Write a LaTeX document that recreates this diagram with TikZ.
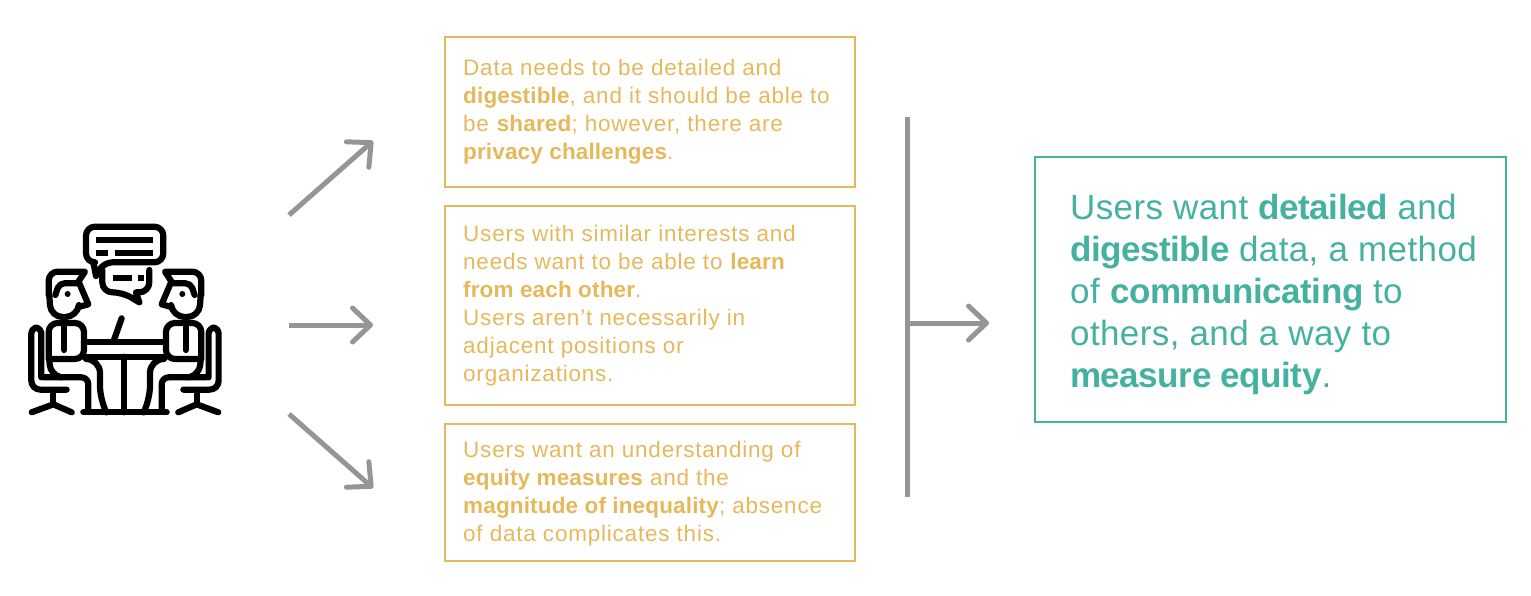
\documentclass[tikz,border=0pt]{standalone}
\usepackage{fontspec}
\setmainfont[LetterSpace=3.5,BoldFeatures={LetterSpace=0.7}]{Liberation Sans}
\newfontfamily\largefam[LetterSpace=1.1,BoldFeatures={LetterSpace=-1.3}]{Liberation Sans}
\usetikzlibrary{arrows.meta}
\definecolor{amber}{HTML}{E6B85C}
\definecolor{teal2}{HTML}{45B1A1}
\definecolor{arrowgrey}{HTML}{959595}
\tikzset{
  x=1pt,y=-1pt,
  smallbox/.style={draw=amber,line width=2pt,minimum width=409.5pt,inner sep=0pt},
  smalltext/.style={anchor=west,inner sep=0pt,align=left,text=amber,font=\fontsize{22.5}{28}\selectfont},
  bigbox/.style={draw=teal2,line width=2pt,minimum width=471pt,minimum height=265pt,inner sep=0pt},
  bigtext/.style={anchor=west,inner sep=0pt,align=left,text=teal2,font=\largefam\fontsize{35}{42}\selectfont},
  flow/.style={draw=arrowgrey,line width=5pt,-{Straight Barb[length=18pt,width=34pt,round,line width=5pt]}},
  bar/.style={draw=arrowgrey,line width=5pt},
  ico/.style={draw=black,line width=6.2pt,line join=round,line cap=round,fill=none}
}
\newcommand{\personpart}{%
  % hair
  \draw[ico,rounded corners=9pt] (86,240) -- (86,170) [sharp corners] -- (195,170) -- (172,205) [rounded corners=5pt] -- (118,205) -- (106,240);
  % face
  \draw[ico,rounded corners=12pt] (88,240) -- (92,306) -- (172,306) [sharp corners] -- (176,276) -- (205,268) -- (178,205);
  \fill (143,237) circle (9);
  % torso
  \draw[ico,rounded corners=9pt] (86,432) -- (86,324) -- (192,324) -- (192,432) [sharp corners] -- cycle;
  \draw[ico] (133,330) -- (133,405);
  % chair
  \draw[ico,rounded corners=6pt] (64,487) -- (64,338) -- (34,338) [rounded corners=9pt] -- (34,524) -- (140,524);
  \draw[ico,rounded corners=7pt] (70,487) -- (205,487) -- (205,590);
  \draw[ico,rounded corners=9pt] (88,436) -- (92,478) -- (125,487);
  \draw[ico,rounded corners=14pt] (205,432) -- (240,432) -- (240,555) [sharp corners] -- (258,590);
  % seat post and feet
  \draw[ico] (100,525) -- (100,568);
  \draw[ico] (35,592) -- (100,568) -- (155,592);
}
\begin{document}
\begin{tikzpicture}
\useasboundingbox (0,0) rectangle (1531,595);

% icon
\begin{scope}[shift={(20,215)},x=0.3333pt,y=-0.3333pt]
  \node[inner sep=0pt,minimum size=0pt] (icon) at (315,315) {};
  \draw[ico,rounded corners=9pt] (198,35) -- (430,35) -- (430,142) -- (250,142) [sharp corners] -- (228,183) -- (220,142) [rounded corners=9pt] -- (198,142) -- cycle;
  \draw[ico,rounded corners=10pt] (247,165) -- (247,232) -- (308,232) [sharp corners] -- (358,262) -- (348,232) [rounded corners=10pt] -- (388,232) -- (388,165);
  \draw[black,line width=6pt] (228,75) -- (400,75) (228,115) -- (265,115) (285,115) -- (400,115) (278,190) -- (335,190) (355,190) -- (372,190);
  \personpart
  \begin{scope}[shift={(630,0)},xscale=-1]
    \personpart
  \end{scope}
  % table
  \draw[ico] (192,382) -- (438,382) (192,425) -- (438,425);
  \draw[ico] (305,310) -- (282,375);
  \draw[ico] (312,425) -- (312,592);
  \draw[ico] (190,592) -- (440,592);
\end{scope}

% small boxes
\node[smallbox,minimum height=150pt] (b1) at (650,112) {};
\node[smallbox,minimum height=199pt] (b2) at (650,305.5) {};
\node[smallbox,minimum height=137pt] (b3) at (650,492.5) {};
\node[smalltext] (t1) at (463,111.5) {Data needs to be detailed and\\\textbf{digestible}, and it should be able to\\be \textbf{shared}; however, there are\\\textbf{privacy challenges}.};
\node[smalltext] (t2) at (463,305.5) {Users with similar interests and\\needs want to be able to \textbf{learn}\\\textbf{from each other}.\\Users aren’t necessarily in\\adjacent positions or\\organizations.};
\node[smalltext] (t3) at (463,493.5) {Users want an understanding of\\\textbf{equity measures} and the\\\textbf{magnitude of inequality}; absence\\of data complicates this.};

% big box
\node[bigbox] (big) at (1270.5,289.5) {};
\node[bigtext] (bt) at (1070,294) {Users want \textbf{detailed} and\\\textbf{digestible} data, a method\\of \textbf{communicating} to\\others, and a way to\\\textbf{measure equity}.};

% connectors
\coordinate (s1) at (289,215);
\coordinate (e1) at (373,141);
\coordinate (s2) at (289,325);
\coordinate (e2) at (373,325);
\coordinate (s3) at (289,414);
\coordinate (e3) at (373,488);
\coordinate (bt1) at (907,117);
\coordinate (bt2) at (907,497);
\coordinate (s4) at (907,323);
\coordinate (e4) at (989,323);
\draw[flow] (s1) -- (e1);
\draw[flow] (s2) -- (e2);
\draw[flow] (s3) -- (e3);
\draw[bar] (bt1) -- (bt2);
\draw[flow] (s4) -- (e4);
\end{tikzpicture}
\end{document}
